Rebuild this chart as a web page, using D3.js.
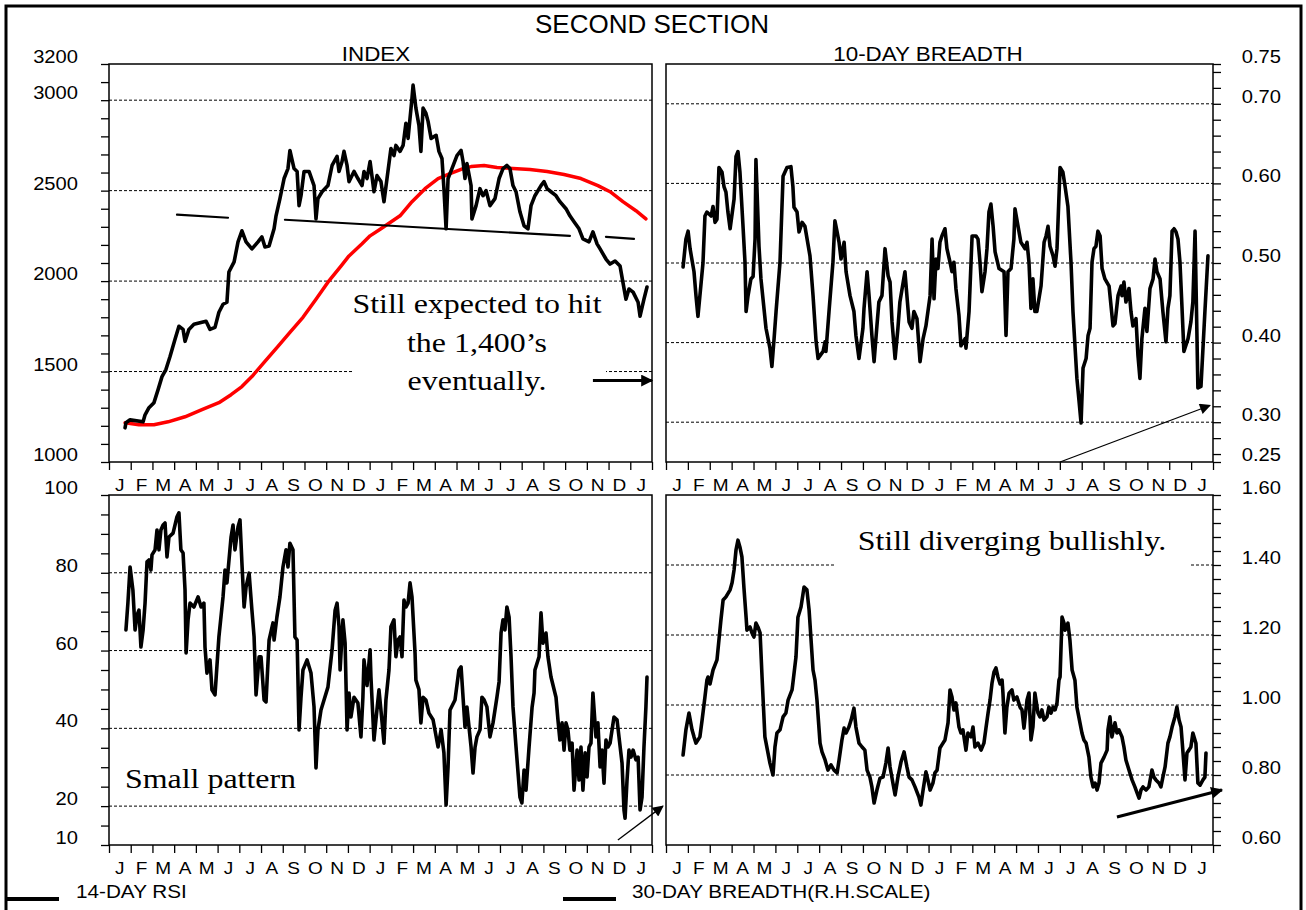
<!DOCTYPE html>
<html>
<head>
<meta charset="utf-8">
<script src="https://cdn.jsdelivr.net/npm/d3@7"></script>
<style>
  body { margin: 0; background: #fff; }
  svg { display: block; }
</style>
</head>
<body>
<script>
// ---- data (time in months from start of year 1) ----
var monthLabels = ["J","F","M","A","M","J","J","A","S","O","N","D","J","F","M","A","M","J","J","A","S","O","N","D","J"];

var indexSeries = [[0.74,1189],[0.78,1217],[0.97,1233],[1.57,1222],[1.66,1261],[1.84,1300],[2.07,1328],[2.26,1400],
  [2.44,1472],[2.62,1511],[2.81,1583],[3.04,1678],[3.22,1750],[3.41,1733],[3.50,1667],[3.68,1733],[3.91,1761],
  [4.28,1772],[4.47,1778],[4.65,1733],[4.88,1744],[5.06,1828],[5.25,1872],[5.43,1883],[5.52,2050],[5.76,2106],
  [5.94,2217],[6.12,2278],[6.31,2217],[6.58,2178],[6.86,2217],[7.04,2244],[7.18,2189],[7.37,2194],[7.60,2289],
  [7.69,2361],[7.87,2456],[8.06,2567],[8.24,2622],[8.33,2722],[8.52,2622],[8.66,2606],[8.75,2417],[8.84,2472],
  [8.98,2606],[9.21,2606],[9.44,2528],[9.53,2344],[9.62,2456],[9.81,2494],[10.08,2528],[10.27,2639],[10.50,2689],
  [10.59,2606],[10.73,2661],[10.82,2717],[10.96,2639],[11.05,2550],[11.28,2606],[11.46,2567],[11.65,2528],
  [11.74,2606],[11.88,2567],[12.02,2661],[12.20,2494],[12.34,2583],[12.52,2550],[12.66,2439],[12.80,2567],
  [12.98,2733],[13.12,2694],[13.21,2750],[13.40,2717],[13.54,2750],[13.67,2872],[13.77,2789],[13.95,3011],
  [14.00,3083],[14.13,2956],[14.27,2861],[14.36,2717],[14.46,2956],[14.59,2928],[14.69,2883],[14.83,2789],
  [15.06,2806],[15.19,2717],[15.33,2678],[15.42,2511],[15.52,2289],[15.61,2567],[15.79,2622],[16.02,2694],
  [16.21,2722],[16.30,2661],[16.39,2567],[16.48,2650],[16.67,2528],[16.71,2344],[16.90,2417],[17.08,2511],
  [17.22,2472],[17.36,2500],[17.54,2417],[17.77,2456],[17.96,2567],[18.14,2622],[18.32,2639],[18.46,2622],
  [18.60,2528],[18.74,2494],[18.92,2383],[19.11,2306],[19.29,2289],[19.43,2417],[19.61,2472],[19.89,2528],
  [20.03,2550],[20.17,2511],[20.35,2494],[20.58,2472],[20.76,2439],[21.04,2400],[21.22,2361],[21.41,2328],
  [21.64,2289],[21.82,2233],[22.10,2217],[22.28,2272],[22.47,2206],[22.61,2178],[22.88,2122],[23.07,2094],
  [23.30,2111],[23.53,2083],[23.66,1994],[23.80,1900],[23.94,1956],[24.13,1939],[24.36,1883],[24.45,1806],
  [24.63,1900],[24.77,1967]];

var indexAverage = [[0.74,1217],[1.38,1206],[2.07,1206],[2.72,1222],[3.50,1250],[4.28,1289],[5.06,1328],
  [5.62,1372],[6.12,1417],[6.58,1472],[7.18,1556],[7.78,1639],[8.33,1717],[8.93,1800],[9.53,1900],[10.08,1994],
  [10.68,2083],[11.05,2139],[11.65,2206],[12.02,2250],[12.52,2289],[13.40,2361],[13.95,2439],[14.55,2511],
  [15.15,2567],[15.70,2594],[16.30,2622],[16.67,2633],[17.27,2639],[17.86,2628],[18.60,2622],[19.38,2617],
  [20.17,2606],[20.95,2589],[21.73,2567],[22.51,2528],[23.07,2494],[23.66,2439],[24.26,2389],[24.72,2344]];

var breadth10 = [[0.78,0.495],[0.91,0.53],[1.01,0.54],[1.10,0.518],[1.28,0.489],[1.37,0.459],[1.46,0.433],
  [1.55,0.459],[1.69,0.50],[1.78,0.559],[1.87,0.564],[2.06,0.559],[2.15,0.571],[2.24,0.551],[2.33,0.555],
  [2.42,0.62],[2.56,0.614],[2.65,0.596],[2.74,0.589],[2.83,0.564],[2.93,0.543],[3.11,0.58],[3.20,0.634],
  [3.29,0.64],[3.38,0.614],[3.52,0.546],[3.61,0.501],[3.66,0.439],[3.75,0.459],[3.88,0.48],[3.98,0.483],
  [4.07,0.53],[4.11,0.63],[4.25,0.521],[4.34,0.48],[4.57,0.418],[4.75,0.393],[4.84,0.37],[4.94,0.405],
  [5.03,0.439],[5.21,0.501],[5.35,0.609],[5.53,0.62],[5.71,0.621],[5.80,0.596],[5.85,0.57],[5.99,0.564],
  [6.08,0.539],[6.22,0.551],[6.35,0.546],[6.58,0.509],[6.72,0.459],[6.86,0.401],[6.95,0.38],[7.18,0.389],
  [7.27,0.401],[7.31,0.389],[7.45,0.439],[7.63,0.501],[7.72,0.553],[7.82,0.539],[7.91,0.526],[8.00,0.505],
  [8.14,0.526],[8.23,0.489],[8.41,0.459],[8.59,0.439],[8.68,0.409],[8.82,0.38],[9.00,0.418],[9.05,0.443],
  [9.19,0.489],[9.28,0.459],[9.41,0.409],[9.51,0.376],[9.64,0.421],[9.73,0.451],[9.87,0.459],[10.01,0.518],
  [10.15,0.484],[10.24,0.476],[10.33,0.426],[10.47,0.38],[10.60,0.418],[10.69,0.451],[10.92,0.489],
  [11.01,0.459],[11.11,0.426],[11.24,0.418],[11.33,0.439],[11.47,0.43],[11.61,0.376],[11.75,0.405],
  [11.88,0.421],[12.07,0.459],[12.16,0.53],[12.25,0.455],[12.34,0.505],[12.43,0.493],[12.52,0.526],
  [12.61,0.534],[12.75,0.543],[12.84,0.518],[12.98,0.501],[13.07,0.489],[13.16,0.501],[13.25,0.468],
  [13.39,0.434],[13.48,0.396],[13.67,0.405],[13.71,0.393],[13.85,0.439],[13.99,0.534],[14.17,0.534],
  [14.26,0.53],[14.35,0.501],[14.44,0.464],[14.58,0.489],[14.67,0.518],[14.76,0.564],[14.85,0.574],
  [14.95,0.546],[15.04,0.514],[15.22,0.493],[15.45,0.489],[15.54,0.409],[15.63,0.489],[15.77,0.493],
  [15.90,0.53],[15.95,0.568],[16.09,0.546],[16.22,0.526],[16.41,0.518],[16.50,0.526],[16.59,0.501],
  [16.68,0.443],[16.77,0.48],[16.86,0.439],[16.95,0.439],[17.14,0.471],[17.28,0.526],[17.37,0.534],
  [17.46,0.546],[17.55,0.521],[17.69,0.509],[17.78,0.496],[17.87,0.518],[18.01,0.62],[18.14,0.614],
  [18.24,0.596],[18.37,0.571],[18.51,0.501],[18.60,0.439],[18.78,0.355],[18.88,0.326],[18.97,0.299],
  [19.06,0.368],[19.20,0.38],[19.29,0.409],[19.38,0.418],[19.47,0.501],[19.56,0.518],[19.65,0.521],
  [19.74,0.54],[19.84,0.534],[19.93,0.493],[20.06,0.48],[20.25,0.471],[20.34,0.446],[20.43,0.421],
  [20.52,0.424],[20.66,0.459],[20.80,0.471],[20.84,0.459],[20.93,0.476],[21.02,0.451],[21.16,0.468],
  [21.25,0.439],[21.34,0.421],[21.48,0.43],[21.57,0.384],[21.66,0.355],[21.75,0.405],[21.89,0.443],
  [21.98,0.414],[22.12,0.468],[22.26,0.48],[22.35,0.505],[22.44,0.489],[22.58,0.48],[22.71,0.439],
  [22.85,0.401],[22.94,0.443],[23.03,0.459],[23.13,0.54],[23.22,0.543],[23.31,0.539],[23.40,0.53],
  [23.49,0.501],[23.58,0.446],[23.67,0.389],[23.86,0.405],[23.99,0.426],[24.08,0.451],[24.18,0.54],
  [24.31,0.343],[24.45,0.345],[24.63,0.439],[24.77,0.509]];

var rsi14 = [[0.78,65.3],[0.87,72.2],[0.97,81.5],[1.10,75.6],[1.20,65.3],[1.29,69.1],[1.38,70.4],[1.47,60.9],
  [1.57,65.3],[1.66,72.2],[1.75,82.8],[1.84,83.3],[1.93,80.7],[1.98,84.6],[2.12,85.9],[2.21,91],[2.30,85.9],
  [2.39,91],[2.49,92.3],[2.58,92.8],[2.67,84.1],[2.76,89.2],[2.95,90.2],[3.13,94.4],[3.22,95.4],[3.31,85.9],
  [3.41,85.1],[3.50,75.6],[3.55,59.4],[3.64,67.9],[3.73,72.2],[3.91,71.2],[4.10,73.8],[4.24,71.2],[4.37,72.2],
  [4.42,60.9],[4.51,54.2],[4.65,57.6],[4.74,49.9],[4.88,48.6],[5.06,63.5],[5.25,73.8],[5.34,80.7],[5.43,77.4],
  [5.62,89.2],[5.71,92.3],[5.80,85.9],[5.94,91.8],[6.03,93.6],[6.12,82.5],[6.22,71.2],[6.31,76.3],[6.45,79.9],
  [6.58,70.4],[6.68,63.5],[6.77,48.6],[6.91,58.4],[7.00,58.4],[7.14,47.3],[7.23,46.8],[7.37,62.7],[7.55,67.1],
  [7.60,62.7],[7.73,68.6],[7.87,73.8],[8.01,81.5],[8.15,85.9],[8.24,81.5],[8.33,87.6],[8.47,85.9],[8.56,63.5],
  [8.66,62.7],[8.75,39.6],[8.84,48],[8.93,55],[9.12,57.6],[9.30,54.2],[9.44,45.5],[9.53,29.8],[9.62,39.6],
  [9.76,44.7],[9.90,47.3],[10.08,50.6],[10.27,60.2],[10.41,70.4],[10.50,72.2],[10.59,66.1],[10.64,55],
  [10.77,67.9],[10.87,61.9],[10.96,39.6],[11.05,49.1],[11.14,42.9],[11.28,48],[11.46,46.5],[11.60,37.8],
  [11.69,48],[11.74,57.6],[11.88,51],[12.02,60.2],[12.06,53.2],[12.20,37],[12.29,42.2],[12.43,49.9],
  [12.52,44.7],[12.66,36.2],[12.75,47.3],[12.89,55],[12.98,66.1],[13.12,67.9],[13.21,58.4],[13.31,62.7],
  [13.40,63.5],[13.49,58.4],[13.58,73],[13.67,71.2],[13.77,72.2],[13.86,77.4],[13.95,73.8],[14.09,59.4],
  [14.13,52.4],[14.27,50],[14.36,41.4],[14.46,48],[14.59,47.3],[14.73,43.9],[14.92,42.2],[15.15,35.2],
  [15.29,39.6],[15.42,33.7],[15.52,20.3],[15.61,30.1],[15.70,44.7],[15.93,47.3],[16.11,55],[16.21,55.8],
  [16.30,48],[16.39,40.3],[16.48,45.5],[16.67,35.2],[16.76,28.5],[16.85,35],[16.94,37.8],[17.08,39.6],
  [17.17,48],[17.27,47.3],[17.40,45.5],[17.54,37.8],[17.68,41.4],[17.86,48],[17.96,52],[18.05,64.5],
  [18.14,67.9],[18.23,65.3],[18.32,71.2],[18.42,68.6],[18.51,58.4],[18.60,45.5],[18.74,35.2],[18.92,22.3],
  [19.01,20.8],[19.11,29.3],[19.20,24.1],[19.34,35.2],[19.48,45.5],[19.57,49.1],[19.61,55],[19.80,58.4],
  [19.89,69.7],[19.98,61.9],[20.12,64.5],[20.21,58.4],[20.35,53.2],[20.58,48],[20.67,42.2],[20.76,37],
  [20.86,41.4],[20.95,34.4],[21.04,41.4],[21.13,39.6],[21.22,34.4],[21.32,36.2],[21.41,24.1],[21.55,34.4],
  [21.64,26.7],[21.73,35.2],[21.82,24.1],[21.92,33.7],[22.01,27.5],[22.10,35.2],[22.19,36.2],[22.28,49.1],
  [22.42,37.8],[22.51,41.4],[22.61,30.1],[22.70,34.4],[22.79,25.9],[22.88,37],[22.97,35.2],[23.07,36.2],
  [23.25,42.9],[23.39,42.2],[23.48,37.8],[23.62,31.1],[23.71,19],[23.76,16.9],[23.85,26.7],[23.94,34.4],
  [24.03,32.6],[24.13,34.4],[24.26,31.9],[24.36,32.6],[24.45,19],[24.54,22.3],[24.63,35.2],[24.72,45.5],
  [24.77,53.2]];

var breadth30 = [[0.78,0.857],[0.91,0.929],[1.05,0.977],[1.19,0.929],[1.28,0.909],[1.37,0.891],[1.55,0.909],
  [1.65,0.957],[1.78,1.023],[1.87,1.071],[1.92,1.08],[2.01,1.06],[2.15,1.10],[2.33,1.129],[2.51,1.243],
  [2.61,1.30],[2.74,1.309],[2.93,1.329],[3.02,1.349],[3.11,1.386],[3.20,1.443],[3.29,1.471],[3.38,1.451],
  [3.47,1.423],[3.56,1.337],[3.66,1.251],[3.70,1.214],[3.84,1.223],[3.93,1.206],[4.02,1.194],[4.11,1.234],
  [4.20,1.223],[4.30,1.206],[4.39,1.08],[4.52,0.909],[4.66,0.863],[4.75,0.834],[4.89,0.80],[4.98,0.88],
  [5.07,0.92],[5.21,0.929],[5.35,0.966],[5.48,0.977],[5.58,1.014],[5.76,1.043],[5.80,1.063],[5.94,1.137],
  [6.03,1.251],[6.17,1.28],[6.31,1.337],[6.44,1.329],[6.54,1.271],[6.72,1.10],[6.81,1.071],[6.90,1.014],
  [7.04,0.891],[7.13,0.866],[7.27,0.843],[7.40,0.814],[7.54,0.829],[7.68,0.814],[7.82,0.806],[7.91,0.843],
  [8.04,0.90],[8.14,0.934],[8.23,0.92],[8.36,0.937],[8.46,0.957],[8.59,0.991],[8.68,0.937],[8.82,0.891],
  [8.96,0.88],[9.09,0.871],[9.19,0.814],[9.32,0.794],[9.41,0.766],[9.51,0.72],[9.64,0.757],[9.78,0.791],
  [9.92,0.794],[10.05,0.834],[10.15,0.877],[10.24,0.823],[10.37,0.777],[10.47,0.743],[10.60,0.794],
  [10.74,0.837],[10.88,0.866],[11.01,0.823],[11.11,0.794],[11.24,0.786],[11.38,0.766],[11.56,0.737],
  [11.65,0.714],[11.75,0.757],[11.88,0.809],[11.97,0.786],[12.07,0.757],[12.20,0.777],[12.29,0.806],
  [12.39,0.814],[12.52,0.877],[12.61,0.886],[12.75,0.90],[12.89,0.949],[12.98,1.043],[13.07,1.023],
  [13.16,0.986],[13.25,1.006],[13.39,0.937],[13.48,0.92],[13.57,0.929],[13.71,0.871],[13.80,0.92],
  [13.94,0.909],[14.03,0.937],[14.12,0.88],[14.26,0.891],[14.40,0.871],[14.53,0.891],[14.63,0.937],
  [14.72,0.977],[14.81,1.014],[14.90,1.063],[14.99,1.094],[15.08,1.106],[15.17,1.08],[15.27,1.06],
  [15.36,1.071],[15.40,1.034],[15.49,0.92],[15.58,0.994],[15.68,1.034],[15.81,1.043],[15.90,1.014],
  [16.04,1.023],[16.18,0.994],[16.27,0.986],[16.36,0.934],[16.50,1.014],[16.59,1.034],[16.68,0.90],
  [16.77,0.937],[16.86,1.034],[17.00,0.977],[17.09,0.966],[17.18,0.986],[17.28,0.957],[17.41,0.966],
  [17.50,0.994],[17.60,0.977],[17.69,0.994],[17.78,0.986],[17.87,1.006],[17.96,1.071],[18.01,1.08],
  [18.10,1.251],[18.19,1.234],[18.24,1.214],[18.37,1.234],[18.46,1.186],[18.56,1.10],[18.69,1.071],
  [18.78,0.994],[18.92,0.949],[19.01,0.92],[19.10,0.90],[19.20,0.891],[19.33,0.851],[19.42,0.794],
  [19.52,0.766],[19.61,0.777],[19.70,0.757],[19.79,0.777],[19.88,0.834],[20.02,0.851],[20.16,0.871],
  [20.20,0.929],[20.29,0.966],[20.38,0.909],[20.52,0.949],[20.61,0.92],[20.70,0.929],[20.84,0.909],
  [20.93,0.88],[21.02,0.843],[21.16,0.814],[21.30,0.786],[21.43,0.766],[21.53,0.749],[21.62,0.734],
  [21.71,0.757],[21.80,0.766],[21.94,0.757],[22.07,0.766],[22.21,0.814],[22.30,0.794],[22.39,0.786],
  [22.53,0.777],[22.62,0.766],[22.71,0.794],[22.81,0.823],[22.94,0.891],[23.03,0.909],[23.13,0.937],
  [23.26,0.966],[23.35,0.994],[23.45,0.957],[23.54,0.937],[23.63,0.863],[23.72,0.786],[23.81,0.863],
  [23.90,0.871],[23.99,0.88],[24.08,0.92],[24.22,0.891],[24.31,0.777],[24.41,0.771],[24.54,0.786],
  [24.63,0.794],[24.68,0.863]];

// trend lines and arrows on the panels
var necklineLeft = [[3.13,2367],[5.48,2350]];
var necklineMain = [[8.10,2339],[21.22,2250]];
var necklineRight = [[22.88,2244],[24.17,2233]];
var indexArrow = [[22.28,1450],[25.0,1450]];
var breadth10Arrow = [[18.01,0.25],[24.86,0.321]];
var rsiArrow = [[23.43,11.3],[25.5,20.0]];
var breadth30Arrow = [[20.61,0.68],[25.41,0.757]];

// axis ticks and labels
var indexLabels = [1000, 1500, 2000, 2500, 3000, 3200];
var indexGrid = [1500, 2000, 2500, 3000];
var b10Labels = [0.25, 0.30, 0.40, 0.50, 0.60, 0.70, 0.75];
var b10Grid = [0.30, 0.40, 0.50, 0.60, 0.70];
var rsiLabels = [10, 20, 40, 60, 80, 100];
var rsiGrid = [20, 40, 60, 80];
var b30Labels = [0.60, 0.80, 1.00, 1.20, 1.40, 1.60];
var b30Grid = [0.80, 1.00, 1.20, 1.40];

var SANS = '"Liberation Sans", Arial, sans-serif';
var SERIF = '"Liberation Serif", "Times New Roman", serif';

var svg = d3.select("body").append("svg").attr("width", 1306).attr("height", 910);

var defs = svg.append("defs");
function marker(id, w, h) {
  defs.append("marker").attr("id", id)
    .attr("viewBox", "0 0 10 10").attr("refX", 9).attr("refY", 5)
    .attr("markerUnits", "userSpaceOnUse")
    .attr("markerWidth", w).attr("markerHeight", h)
    .attr("orient", "auto")
    .append("path").attr("d", "M0,0L10,5L0,10z").attr("fill", "#000");
}
marker("headBig", 16, 12);
marker("headSmall", 16, 11);

// text with the slightly wide look of the original
function label(g, x, y, txt, size, anchor, font, stretch) {
  return g.append("text")
    .attr("transform", "translate(" + x + "," + y + ") scale(" + (stretch || 1.12) + ",1)")
    .attr("text-anchor", anchor || "start")
    .attr("font-family", font || SANS)
    .attr("font-size", size)
    .attr("fill", "#000")
    .text(txt);
}

function panel(left, right, top, bottom, domainY, side) {
  return {
    x: d3.scaleLinear().domain([0, 25]).range([left, right]),
    y: d3.scaleLinear().domain(domainY).range([bottom, top]),
    left: left, right: right, top: top, bottom: bottom, side: side
  };
}

var pIndex = panel(109, 652, 64, 462, [1000, 3200], "left");
var pB10 = panel(666, 1213, 64, 462, [0.25, 0.75], "right");
var pRsi = panel(109, 652, 495, 845, [10, 100], "left");
var pB30 = panel(666, 1213, 495, 845, [0.60, 1.60], "right");

function drawFrame(p, ticks, labels, grid, fmt) {
  var g = svg.append("g");
  grid.forEach(function(v) {
    g.append("line")
      .attr("x1", p.left).attr("x2", p.right)
      .attr("y1", p.y(v)).attr("y2", p.y(v))
      .attr("stroke", "#000").attr("stroke-width", 1)
      .attr("stroke-dasharray", "3,2");
  });

  var yAxis = (p.side === "left" ? d3.axisLeft(p.y) : d3.axisRight(p.y))
    .tickValues(ticks).tickSize(8).tickFormat("");
  var ag = g.append("g")
    .attr("transform", "translate(" + (p.side === "left" ? p.left : p.right) + ",0)")
    .call(yAxis);
  ag.select(".domain").remove();
  ag.selectAll("line").attr("stroke-width", 1.3);

  var lx = p.side === "left" ? 78 : 1281;
  labels.forEach(function(v) {
    label(g, lx, p.y(v) - 1, fmt(v), 18, "end");
  });

  var xAxis = d3.axisBottom(p.x).tickValues(d3.range(26)).tickSize(8).tickFormat("");
  var xg = g.append("g").attr("transform", "translate(0," + p.bottom + ")").call(xAxis);
  xg.select(".domain").remove();
  xg.selectAll("line").attr("stroke-width", 1.3);

  monthLabels.forEach(function(m, i) {
    label(g, p.x(i + 0.5), p.bottom + 29, m, 17, "middle");
  });

  g.append("rect")
    .attr("x", p.left).attr("y", p.top)
    .attr("width", p.right - p.left).attr("height", p.bottom - p.top)
    .attr("fill", "none").attr("stroke", "#000").attr("stroke-width", 1.5);
  return g;
}

drawFrame(pIndex, d3.range(1000, 3201, 100), indexLabels, indexGrid, d3.format("d"));
drawFrame(pB10, d3.range(0.26, 0.75, 0.02).concat([0.25, 0.75]), b10Labels, b10Grid, d3.format(".2f"));
drawFrame(pRsi, d3.range(10, 101, 5), rsiLabels, rsiGrid, d3.format("d"));
drawFrame(pB30, d3.range(0.60, 1.61, 0.04), b30Labels, b30Grid, d3.format(".2f"));

// white boxes behind the notes (they hide the grid lines)
svg.append("rect").attr("x", 353).attr("y", 290).attr("width", 253).attr("height", 110).attr("fill", "#fff");
svg.append("rect").attr("x", 835).attr("y", 520).attr("width", 354).attr("height", 50).attr("fill", "#fff");

function series(p, data, color, width) {
  var line = d3.line().x(function(d) { return p.x(d[0]); }).y(function(d) { return p.y(d[1]); });
  svg.append("path").datum(data)
    .attr("d", line)
    .attr("fill", "none")
    .attr("stroke", color)
    .attr("stroke-width", width)
    .attr("stroke-linejoin", "round")
    .attr("stroke-linecap", "round");
}

series(pIndex, indexAverage, "#ff0000", 3.5);
series(pIndex, indexSeries, "#000", 3.6);
series(pB10, breadth10, "#000", 3.6);
series(pRsi, rsi14, "#000", 3.6);
series(pB30, breadth30, "#000", 3.6);

series(pIndex, necklineLeft, "#000", 2.2);
series(pIndex, necklineMain, "#000", 2.2);
series(pIndex, necklineRight, "#000", 2.2);

function arrow(p, pts, width, head) {
  svg.append("line")
    .attr("x1", p.x(pts[0][0])).attr("y1", p.y(pts[0][1]))
    .attr("x2", p.x(pts[1][0])).attr("y2", p.y(pts[1][1]))
    .attr("stroke", "#000").attr("stroke-width", width)
    .attr("marker-end", "url(#" + head + ")");
}
arrow(pIndex, indexArrow, 3, "headBig");
arrow(pB10, breadth10Arrow, 1.3, "headSmall");
arrow(pRsi, rsiArrow, 1.3, "headSmall");
arrow(pB30, breadth30Arrow, 3, "headBig");

// notes
label(svg, 477, 313, "Still expected to hit", 28, "middle", SERIF, 1.14);
label(svg, 477, 352, "the 1,400\u2019s", 28, "middle", SERIF, 1.14);
label(svg, 477, 390, "eventually.", 28, "middle", SERIF, 1.14);
label(svg, 1012, 550, "Still diverging bullishly.", 28, "middle", SERIF, 1.14);
label(svg, 125, 788, "Small pattern", 28, "start", SERIF, 1.14);

// titles
label(svg, 652, 33, "SECOND SECTION", 25, "middle", SANS, 1.04);
label(svg, 376, 61, "INDEX", 20, "middle");
label(svg, 928, 61, "10-DAY BREADTH", 20, "middle");

// legend
svg.append("line").attr("x1", 7).attr("x2", 59).attr("y1", 899).attr("y2", 899)
  .attr("stroke", "#000").attr("stroke-width", 4);
label(svg, 76, 898, "14-DAY RSI", 18.5, "start");
svg.append("line").attr("x1", 563).attr("x2", 616).attr("y1", 899).attr("y2", 899)
  .attr("stroke", "#000").attr("stroke-width", 4);
label(svg, 632, 898, "30-DAY BREADTH(R.H.SCALE)", 18.5, "start");

// outer frame
svg.append("rect").attr("x", 6).attr("y", 6).attr("width", 1295).attr("height", 920)
  .attr("fill", "none").attr("stroke", "#000").attr("stroke-width", 3);
</script>
</body>
</html>
